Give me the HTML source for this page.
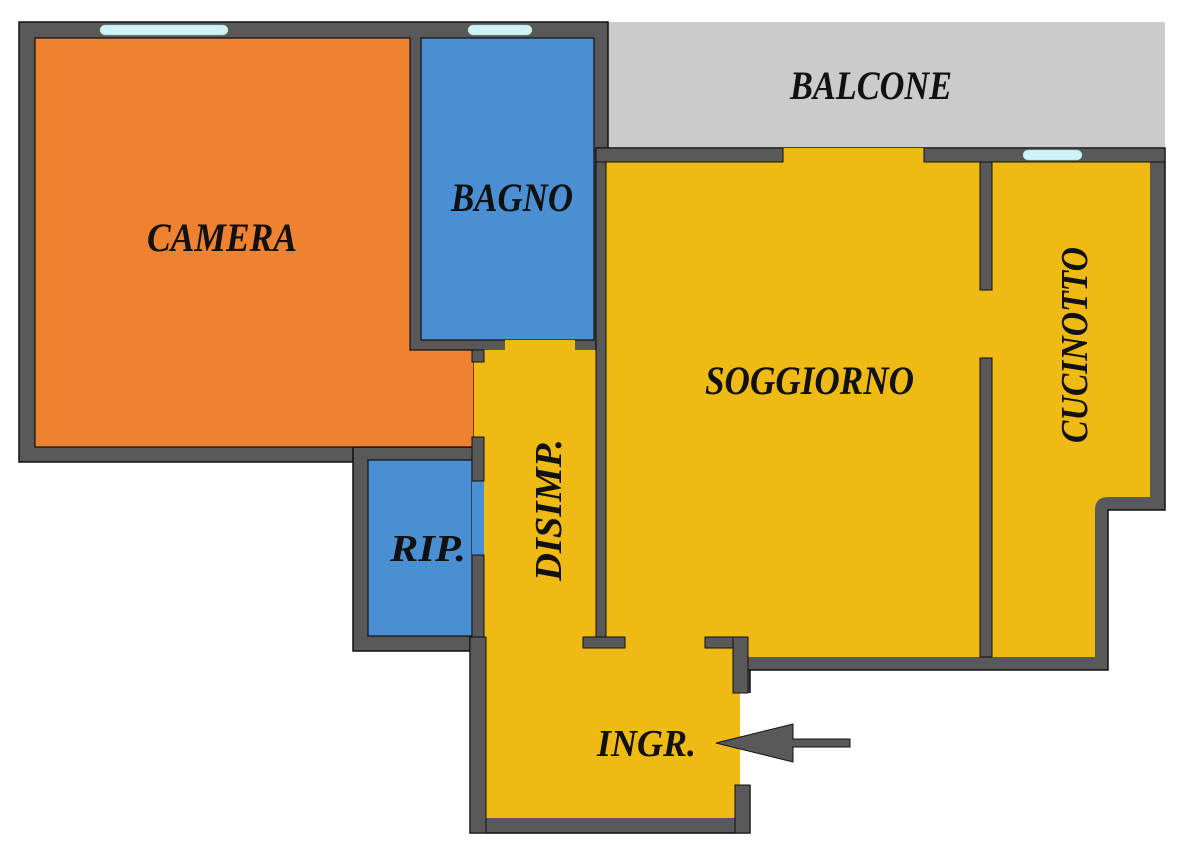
<!DOCTYPE html>
<html><head><meta charset="utf-8"><style>
html,body{margin:0;padding:0;background:#fff;}
svg{display:block;}
text{font-family:"Liberation Serif",serif;font-weight:bold;font-style:italic;fill:#111;}
</style></head><body>
<svg width="1200" height="862" viewBox="0 0 1200 862" xmlns="http://www.w3.org/2000/svg">
<rect x="608" y="22" width="557" height="126" fill="#cbcbcb"/>
<g fill="#595959" stroke="#111" stroke-width="1.5">
<rect x="19" y="22" width="589" height="440"/>
<rect x="353" y="447" width="133" height="204"/>
<rect x="470" y="637" width="280" height="196"/>
<path d="M596 148 H1165 V510 H1108 V670 H737 V693 H596 Z"/>
</g>
<rect x="740" y="693" width="12" height="92" fill="#fff"/>
<g stroke="#111" stroke-width="1.2">
<path d="M35 38 H410 V350 H474 V447 H35 Z" fill="#ef8231"/>
<rect x="421" y="38" width="173" height="302" fill="#4a8fd3"/>
<rect x="368" y="460" width="104" height="176" fill="#4a8fd3"/>
</g>
<g fill="#f0ba14">
<rect x="484" y="350" width="112" height="288"/>
<rect x="606" y="162" width="374" height="495"/>
<path d="M992 162 H1150 V497 H1108 Q1095 497 1095 510 V657 H992 Z"/>
<rect x="980" y="290" width="12" height="68"/>
<rect x="486" y="637" width="251" height="181"/>
<rect x="606" y="637" width="131" height="20"/>
<rect x="733" y="693" width="7" height="92"/>
<rect x="783" y="148" width="141" height="14"/>
<rect x="505" y="340" width="70" height="12"/>
<rect x="474" y="362" width="10" height="75"/>
<rect x="484" y="637" width="99" height="12"/>
</g>
<rect x="472" y="481" width="12" height="74" fill="#4a8fd3"/>
<g fill="#595959" stroke="#111" stroke-width="1">
<rect x="980" y="162" width="12" height="128"/>
<rect x="980" y="358" width="12" height="299"/>
<rect x="596" y="148" width="10" height="497"/>
<rect x="583" y="637" width="42" height="11"/>
<rect x="705" y="637" width="40" height="11"/>
<rect x="733" y="637" width="15" height="56"/>
<rect x="472" y="350" width="12" height="12"/>
<rect x="472" y="437" width="12" height="44"/>
<rect x="472" y="555" width="12" height="96"/>
<rect x="470" y="637" width="16" height="196"/>
<rect x="735" y="785" width="15" height="48"/>
<rect x="596" y="148" width="187" height="14"/>
<rect x="924" y="148" width="241" height="14"/>
</g>
<g fill="#cff3f8" stroke="#9cc" stroke-width="0.5">
<rect x="100" y="25" width="128" height="10" rx="5"/>
<rect x="468" y="25" width="64" height="10" rx="5"/>
<rect x="1023" y="150" width="59" height="10" rx="5"/>
</g>
<path d="M716 743 L793 724 V739 H850 V747 H793 V762 Z" fill="#595959" stroke="#111" stroke-width="1"/>
<text x="790" y="99" font-size="40" textLength="162" lengthAdjust="spacingAndGlyphs">BALCONE</text>
<text x="147" y="251" font-size="40" textLength="150" lengthAdjust="spacingAndGlyphs">CAMERA</text>
<text x="451" y="211" font-size="40" textLength="122" lengthAdjust="spacingAndGlyphs">BAGNO</text>
<text x="705" y="394" font-size="40" textLength="209" lengthAdjust="spacingAndGlyphs">SOGGIORNO</text>
<text x="390" y="561" font-size="38" textLength="76" lengthAdjust="spacingAndGlyphs">RIP.</text>
<text x="597" y="756" font-size="38" textLength="99" lengthAdjust="spacingAndGlyphs">INGR.</text>
<text transform="translate(561,581) rotate(-90)" font-size="38" textLength="142" lengthAdjust="spacingAndGlyphs">DISIMP.</text>
<text transform="translate(1087,443) rotate(-90)" font-size="38" textLength="196" lengthAdjust="spacingAndGlyphs">CUCINOTTO</text>
</svg>
</body></html>
